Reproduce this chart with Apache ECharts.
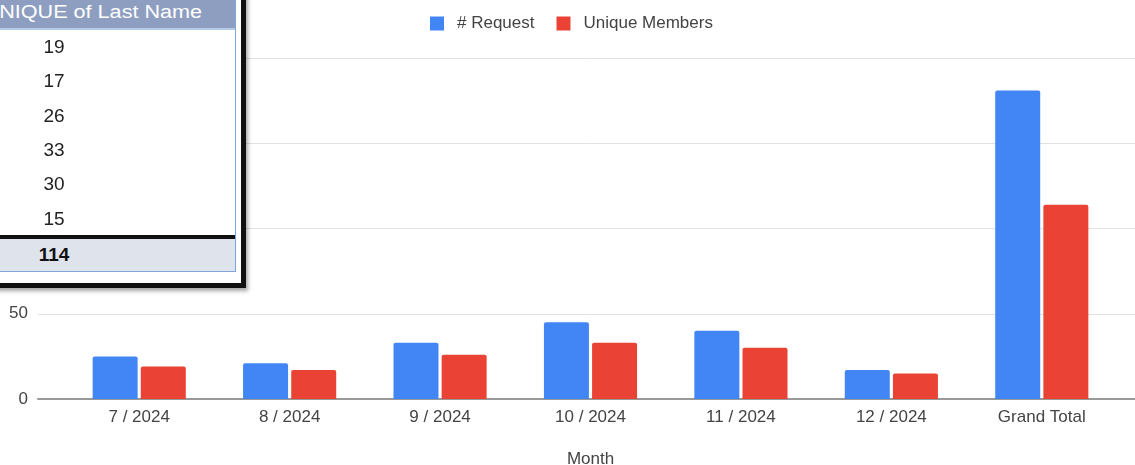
<!DOCTYPE html>
<html>
<head>
<meta charset="utf-8">
<script src="https://cdn.jsdelivr.net/npm/echarts@6/dist/echarts.min.js"></script>
<style>
  html, body { margin: 0; padding: 0; background: #fff; }
  #chart { width: 1135px; height: 465px; }
  .pivot { position: absolute; font-family: "Liberation Sans", Arial, sans-serif; }
  .pivot-frame { left: -10px; top: -10px; width: 256px; height: 298px; box-sizing: border-box;
    border: 5px solid #111; background: #fff; box-shadow: 2px 3px 4px rgba(0,0,0,.35); }
  .pivot-inner { left: -10px; top: -10px; width: 246px; height: 282px; box-sizing: border-box;
    border: 1px solid #7fa6d6; }
  .pivot-head { left: 0; top: 0; width: 235px; height: 28px; background: #8d9ec0;
    border-bottom: 2px solid #b7cbe8; overflow: hidden; }
  .pivot-head span { position: absolute; right: 33px; top: 2px; white-space: nowrap;
    color: #fff; font-size: 18px; transform: scaleX(1.2); transform-origin: right center; }
  .pivot-cell { left: 24px; width: 60px; text-align: center; font-size: 19px; color: #222; }
  .pivot-rule { left: 0; top: 235px; width: 235px; height: 4px; background: #111; }
  .pivot-total { left: 0; top: 239px; width: 235px; height: 32px; background: #dfe3ec; }
</style>
</head>
<body>
<div id="chart"></div>
<div id="pivot"></div>
<script>
  const months = ['7 / 2024', '8 / 2024', '9 / 2024', '10 / 2024', '11 / 2024', '12 / 2024', 'Grand Total']
  const requests = [25, 21, 33, 45, 40, 17, 181]
  const uniqueMembers = [19, 17, 26, 33, 30, 15, 114]
  const yTicks = { min: 0, max: 200, step: 50 }

  // pivot table overlay in the top-left corner
  const pivot = document.getElementById('pivot')
  let html = '<div class="pivot pivot-frame"></div><div class="pivot pivot-inner"></div>' +
    '<div class="pivot pivot-head"><span>COUNTUNIQUE of Last Name</span></div>'
  uniqueMembers.slice(0, 6).forEach((v, i) => {
    html += '<div class="pivot pivot-cell" style="top:' + (36 + i * 34.3) + 'px">' + v + '</div>'
  })
  html += '<div class="pivot pivot-rule"></div><div class="pivot pivot-total"></div>' +
    '<div class="pivot pivot-cell" style="top:244px;font-weight:bold;color:#111">' + uniqueMembers[6] + '</div>'
  pivot.innerHTML = html

  const font = '"Liberation Sans", Arial, sans-serif'
  const myChart = echarts.init(document.getElementById('chart'))
  myChart.setOption({
    color: ['#4285f4', '#ea4335'],
    textStyle: { fontFamily: font },
    legend: {
      left: 425,
      top: 10,
      icon: 'rect',
      itemWidth: 14,
      itemHeight: 14,
      itemGap: 22,
      textStyle: { color: '#444', fontSize: 17, padding: [0, 0, 0, 8] },
      data: ['# Request', 'Unique Members']
    },
    grid: [
      { left: 38, right: 0, top: 58, bottom: 66, outerBoundsMode: 'none' },
      { left: 64, right: 18, top: 58, bottom: 66, outerBoundsMode: 'none' }
    ],
    xAxis: [
      {
        gridIndex: 0,
        type: 'category',
        data: [''],
        axisLine: { lineStyle: { color: '#999', width: 2 } },
        axisTick: { show: false },
        axisLabel: { show: false }
      },
      {
        gridIndex: 1,
        type: 'category',
        data: months,
        axisLine: { show: false },
        axisTick: { show: false },
        axisLabel: { color: '#444', fontSize: 17, margin: 10 },
        name: 'Month',
        nameLocation: 'middle',
        nameGap: 52,
        nameTextStyle: { color: '#444', fontSize: 17 }
      }
    ],
    yAxis: [
      {
        gridIndex: 0,
        type: 'value',
        min: yTicks.min,
        max: yTicks.max,
        interval: yTicks.step,
        axisLine: { show: false },
        axisTick: { show: false },
        axisLabel: { color: '#444', fontSize: 17, margin: 10 },
        splitLine: { lineStyle: { color: '#e2e2e2', width: 1 } }
      },
      {
        gridIndex: 1,
        type: 'value',
        min: yTicks.min,
        max: yTicks.max,
        interval: yTicks.step,
        show: false,
        splitLine: { show: false }
      }
    ],
    series: [
      {
        name: '# Request',
        type: 'bar',
        xAxisIndex: 1,
        yAxisIndex: 1,
        barWidth: 45,
        barGap: '7%',
        itemStyle: { borderRadius: [2, 2, 0, 0] },
        data: requests
      },
      {
        name: 'Unique Members',
        type: 'bar',
        xAxisIndex: 1,
        yAxisIndex: 1,
        barWidth: 45,
        barGap: '7%',
        itemStyle: { borderRadius: [2, 2, 0, 0] },
        data: uniqueMembers
      }
    ]
  })
</script>
</body>
</html>
